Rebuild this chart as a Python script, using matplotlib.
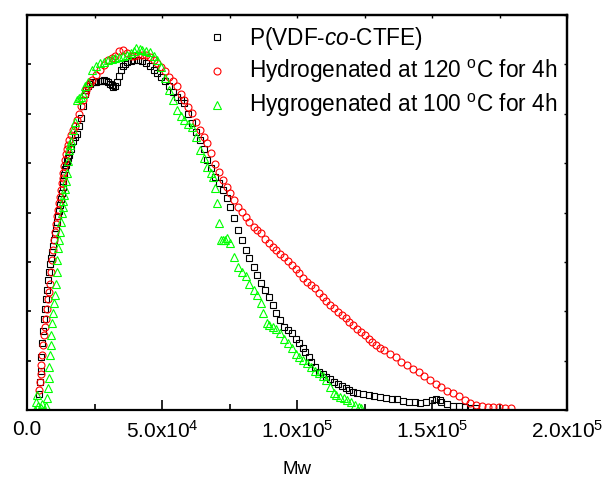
import numpy as np
import matplotlib
matplotlib.use("Agg")
import matplotlib.pyplot as plt
from matplotlib.ticker import FixedLocator, NullFormatter

plt.rcParams["font.family"] = ["Liberation Sans", "DejaVu Sans"]
plt.rcParams["mathtext.fontset"] = "custom"
plt.rcParams["mathtext.rm"] = "Liberation Sans"
plt.rcParams["mathtext.it"] = "Liberation Sans:italic"

# Mw in units of 1e3, signal normalised to the axis height
pvdf_mw = [4.3, 4.65, 5.0, 5.35, 5.7, 6.05, 6.4, 6.75, 7.1, 7.45, 7.8, 8.15, 8.5, 8.85, 9.2, 9.6,
           10.0, 10.35, 10.7, 11.05, 11.4, 11.75, 12.1, 12.45, 12.8, 13.15, 13.5, 13.85, 14.2, 14.55,
           14.9, 15.25, 15.6, 16.3, 17.1, 17.8, 18.5, 19.2, 19.9, 20.6, 21.3, 22.0, 22.7, 23.5, 24.2,
           25.0, 25.6, 26.3, 27.0, 27.7, 28.4, 29.2, 29.9, 30.6, 31.3, 32.0, 32.7, 33.4, 34.1, 34.8,
           35.5, 36.3, 37.0, 38.4, 39.8, 41.2, 42.6, 44.1, 45.5, 46.9, 48.3, 49.8, 51.2, 52.6, 54.0,
           55.4, 56.9, 58.3, 59.7, 61.1, 62.5, 64.0, 65.4, 66.8, 68.2, 69.7, 71.1, 72.5, 73.9, 75.3,
           76.8, 78.2, 79.6, 81.0, 82.4, 83.9, 85.3, 86.7, 88.1, 89.6, 91.0, 92.4, 93.8, 95.2, 96.7,
           98.1, 99.5, 100.9, 102.3, 103.1, 104.5, 105.2, 106.6, 108.0, 109.5, 110.9, 112.3, 113.7,
           115.1, 116.6, 118.0, 119.4, 120.8, 122.2, 124.3, 126.5, 128.6, 130.7, 132.9, 135.0, 137.2,
           139.3, 141.5, 143.6, 145.7, 147.9, 150.0, 151.4, 152.8, 153.5, 155.6, 157.8, 159.9, 162.1,
           164.2, 166.3]
pvdf_sig = [0.04, 0.07, 0.10, 0.135, 0.17, 0.20, 0.23, 0.255, 0.28, 0.305, 0.33, 0.35, 0.37, 0.385, 0.40, 0.415,
            0.43, 0.445, 0.46, 0.475, 0.49, 0.505, 0.52, 0.535, 0.55, 0.565, 0.58, 0.595, 0.61, 0.62,
            0.63, 0.638, 0.645, 0.66, 0.68, 0.69, 0.70, 0.72, 0.74, 0.77, 0.80, 0.81, 0.82, 0.826, 0.83,
            0.83, 0.831, 0.832, 0.833, 0.834, 0.835, 0.833, 0.83, 0.826, 0.822, 0.818, 0.82, 0.83, 0.845, 0.86,
            0.87, 0.876, 0.88, 0.884, 0.886, 0.887, 0.884, 0.878, 0.87, 0.861, 0.852, 0.844, 0.832, 0.819, 0.806,
            0.793, 0.785, 0.776, 0.75, 0.726, 0.705, 0.684, 0.66, 0.633, 0.612, 0.591, 0.574, 0.557, 0.536, 0.515,
            0.486, 0.456, 0.43, 0.405, 0.384, 0.363, 0.342, 0.321, 0.304, 0.287, 0.266, 0.245, 0.228, 0.211, 0.202,
            0.194, 0.181, 0.169, 0.158, 0.148, 0.135, 0.122, 0.11, 0.097, 0.09, 0.084, 0.078, 0.072,
            0.067, 0.062, 0.055, 0.05, 0.046, 0.042, 0.04, 0.038, 0.036, 0.034, 0.031, 0.029, 0.027,
            0.023, 0.021, 0.019, 0.017, 0.020, 0.025, 0.027, 0.025, 0.019, 0.014, 0.011, 0.009, 0.007,
            0.006, 0.004]

h120_mw = [4.3, 4.65, 5.0, 5.35, 5.7, 6.05, 6.4, 6.75, 7.1, 7.45, 7.8, 8.15, 8.5, 8.85, 9.2, 9.6,
           10.0, 10.35, 10.7, 11.05, 11.4, 11.75, 12.1, 12.45, 12.8, 13.15, 13.5, 13.85, 14.2, 14.55,
           14.9, 15.25, 15.6, 16.3, 17.1, 17.8, 18.5, 19.2, 19.9, 20.6, 21.3, 22.0, 22.7, 23.5, 24.2,
           25.6, 27.0, 28.4, 29.9, 31.3, 32.7, 34.1, 35.5, 37.0, 38.4, 39.8, 41.2, 42.6, 44.1, 45.5,
           46.9, 48.3, 49.8, 51.2, 52.6, 54.0, 55.4, 56.9, 58.3, 59.7, 61.1, 62.5, 64.0, 65.4, 66.8,
           68.2, 69.7, 71.1, 72.5, 73.9, 75.3, 76.8, 78.2, 79.6, 81.0, 82.4, 83.9, 85.3, 86.7, 88.1,
           89.6, 91.0, 92.4, 93.8, 95.2, 96.7, 98.1, 99.5, 100.9, 102.3, 103.8, 105.2, 106.6, 108.0,
           109.5, 110.9, 112.3, 113.7, 115.1, 116.6, 118.0, 119.4, 120.8, 122.2, 123.7, 125.1, 126.5,
           127.9, 129.4, 130.8, 132.2, 134.3, 136.5, 138.6, 140.7, 142.9, 145.0, 147.1, 149.3, 151.4,
           153.5, 155.6, 157.8, 159.9, 162.1, 164.2, 166.3, 168.5, 170.6, 172.7, 174.8, 177.0, 179.1]
h120_sig = [0.05, 0.07, 0.09, 0.115, 0.14, 0.165, 0.19, 0.21, 0.23, 0.255, 0.28, 0.30, 0.32, 0.35, 0.38, 0.405,
            0.43, 0.45, 0.47, 0.49, 0.506, 0.523, 0.54, 0.557, 0.574, 0.587, 0.60, 0.617, 0.633, 0.647,
            0.66, 0.672, 0.684, 0.695, 0.71, 0.72, 0.734, 0.75, 0.77, 0.785, 0.80, 0.81, 0.82, 0.828, 0.835,
            0.848, 0.861, 0.873, 0.886, 0.89, 0.895, 0.908, 0.911, 0.903, 0.895, 0.897, 0.899, 0.899, 0.899, 0.893,
            0.886, 0.878, 0.869, 0.857, 0.844, 0.832, 0.819, 0.80, 0.785, 0.768, 0.751, 0.73, 0.709, 0.692, 0.675,
            0.65, 0.624, 0.603, 0.582, 0.565, 0.549, 0.532, 0.515, 0.502, 0.489, 0.476, 0.464, 0.455, 0.447, 0.434,
            0.422, 0.413, 0.405, 0.396, 0.388, 0.377, 0.367, 0.356, 0.346, 0.335, 0.325, 0.316, 0.308, 0.297,
            0.287, 0.276, 0.266, 0.257, 0.249, 0.24, 0.232, 0.223, 0.215, 0.206, 0.198, 0.19, 0.181,
            0.173, 0.165, 0.158, 0.152, 0.142, 0.133, 0.122, 0.114, 0.104, 0.095, 0.086, 0.076, 0.066,
            0.057, 0.049, 0.042, 0.035, 0.025, 0.017, 0.012, 0.010, 0.008, 0.0075, 0.007, 0.005, 0.004]

h100_mw = [2.8, 3.2, 3.6, 4.0, 5.0, 5.7, 6.4, 7.1, 7.5, 7.75, 8.0, 8.25, 8.5, 8.75, 9.0, 9.3, 9.6,
           9.95, 10.3, 10.65, 11.0, 11.25, 11.5, 11.8, 12.1, 12.45, 12.8, 13.15, 13.5, 13.85, 14.2,
           14.55, 14.9, 15.25, 15.6, 15.95, 16.3, 17.1, 17.8, 18.5, 19.2, 19.9, 20.6, 21.3, 22.7, 24.2,
           25.6, 27.0, 28.4, 29.9, 31.3, 32.7, 34.1, 35.5, 37.0, 38.4, 39.8, 40.5, 41.9, 42.6, 44.1,
           45.5, 46.9, 48.3, 49.8, 51.2, 52.6, 54.0, 55.4, 56.9, 58.3, 59.7, 61.1, 62.5, 64.0, 65.4,
           66.8, 68.2, 68.9, 69.7, 70.4, 71.1, 71.8, 72.5, 73.2, 73.9, 75.3, 76.8, 78.2, 79.6, 81.0,
           82.4, 83.9, 85.3, 86.7, 87.4, 88.8, 89.6, 91.0, 92.4, 93.8, 95.2, 96.7, 98.1, 99.5, 100.9,
           102.3, 103.8, 105.2, 106.6, 108.0, 109.5, 110.9, 112.3, 113.7, 114.4, 115.8, 117.3, 118.7,
           120.1, 121.5, 122.9, 123.7]
h100_sig = [0.0, 0.02, 0.038, 0.01, 0.005, 0.015, 0.0, 0.01, 0.03, 0.055, 0.08, 0.11, 0.14, 0.165, 0.19, 0.22, 0.245,
            0.27, 0.29, 0.32, 0.35, 0.38, 0.41, 0.43, 0.45, 0.475, 0.498, 0.515, 0.53, 0.545, 0.56,
            0.58, 0.60, 0.63, 0.658, 0.67, 0.68, 0.709, 0.73, 0.785, 0.79, 0.793, 0.80, 0.819, 0.83, 0.86,
            0.87, 0.878, 0.882, 0.886, 0.888, 0.89, 0.893, 0.895, 0.899, 0.903, 0.91, 0.916, 0.914, 0.911, 0.91,
            0.907, 0.895, 0.886, 0.869, 0.84, 0.81, 0.785, 0.759, 0.745, 0.734, 0.725, 0.717, 0.692, 0.658, 0.637,
            0.616, 0.60, 0.591, 0.561, 0.523, 0.473, 0.43, 0.43, 0.43, 0.435, 0.422, 0.388, 0.363, 0.35, 0.338,
            0.32, 0.304, 0.29, 0.27, 0.245, 0.219, 0.215, 0.211, 0.205, 0.194, 0.18, 0.169, 0.158, 0.143, 0.135,
            0.127, 0.118, 0.11, 0.10, 0.093, 0.085, 0.076, 0.059, 0.042, 0.038, 0.034, 0.030, 0.025,
            0.019, 0.013, 0.008, 0.004]

labels = ["P(VDF-$co$-CTFE)",
          "Hydrogenated at 120 $^{\\rm o}$C for 4h",
          "Hygrogenated at 100 $^{\\rm o}$C for 4h"]
xtick_vals = [0, 50000, 100000, 150000, 200000]
xtick_labels = ["0.0", "5.0x10$^{4}$", "1.0x10$^{5}$", "1.5x10$^{5}$", "2.0x10$^{5}$"]

fig = plt.figure(figsize=(6.03, 4.79), dpi=100)
ax = fig.add_axes([27 / 603, 1 - 410 / 479, 540 / 603, 395 / 479])

ax.plot(np.array(pvdf_mw) * 1e3, pvdf_sig, ls="none", marker="s", ms=4.3, mfc="none",
        mec="black", mew=0.8, label=labels[0])
ax.plot(np.array(h120_mw) * 1e3, h120_sig, ls="none", marker="o", ms=5.0, mfc="none",
        mec="red", mew=0.8, label=labels[1])
ax.plot(np.array(h100_mw) * 1e3, h100_sig, ls="none", marker="^", ms=5.8, mfc="none",
        mec="#00ff00", mew=0.8, label=labels[2])

ax.set_xlim(0, 200000)
ax.set_ylim(0, 1)

ax.xaxis.set_major_locator(FixedLocator(xtick_vals))
ax.set_xticklabels(xtick_labels)
ax.xaxis.set_minor_locator(FixedLocator([25000, 75000, 125000, 175000]))
ax.yaxis.set_major_locator(FixedLocator(np.arange(0, 1.01, 0.125)))
ax.yaxis.set_major_formatter(NullFormatter())
ax.tick_params(axis="x", which="major", direction="in", length=7, width=1.2, labelsize=15, pad=7)
ax.tick_params(axis="x", which="minor", direction="in", length=4, width=1.2)
ax.tick_params(axis="y", which="major", direction="in", length=3, width=1.2)

top = ax.secondary_xaxis("top")
top.xaxis.set_major_locator(FixedLocator(np.arange(0, 200001, 25000)))
top.xaxis.set_major_formatter(NullFormatter())
top.tick_params(direction="in", length=2, width=1)
right = ax.secondary_yaxis("right")
right.yaxis.set_major_locator(FixedLocator(np.arange(0, 1.01, 0.125)))
right.yaxis.set_major_formatter(NullFormatter())
right.tick_params(direction="in", length=2, width=1)

for sp in list(ax.spines.values()) + [top.spines["top"], right.spines["right"]]:
    sp.set_linewidth(1.6)

ax.set_xlabel("Mw", fontsize=13.5, labelpad=14)

ax.legend(loc="upper left", bbox_to_anchor=(206 / 603, 1 - 24.5 / 479),
          bbox_transform=fig.transFigure, frameon=False, fontsize=16.3, numpoints=1,
          handlelength=1.0, handletextpad=0.9, labelspacing=0.3, borderpad=0, borderaxespad=0)

fig.savefig("out.png", dpi=100)
